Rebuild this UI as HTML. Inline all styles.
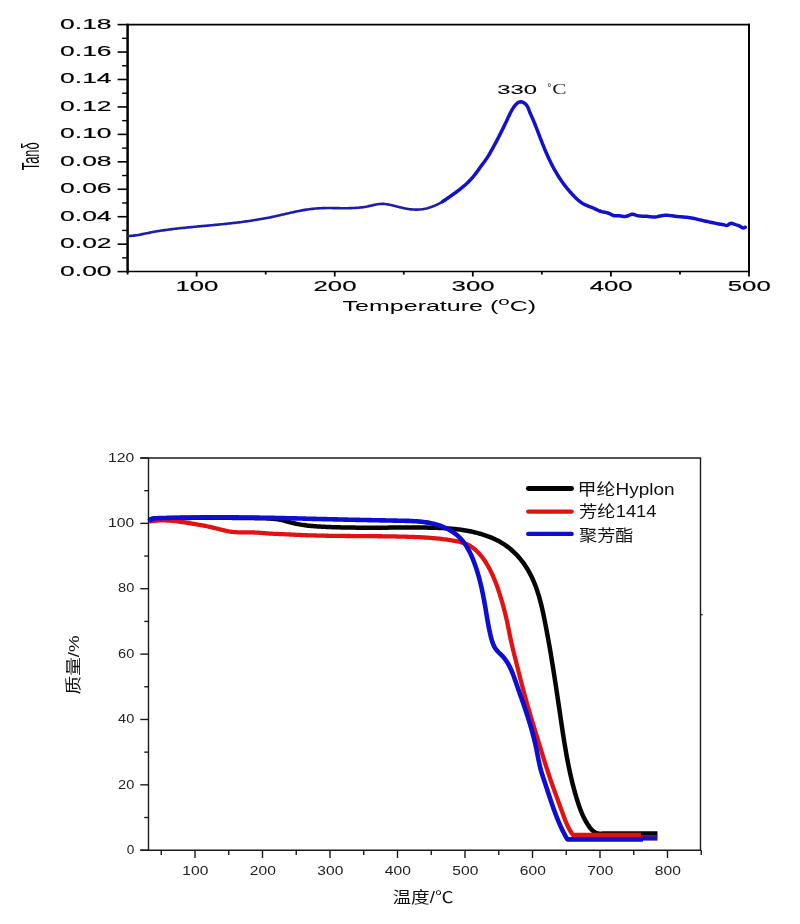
<!DOCTYPE html>
<html lang="zh-CN"><head><meta charset="utf-8"><title>Tan&#948; and TGA curves</title>
<style>
html,body{margin:0;padding:0;background:#fff;width:800px;height:924px;overflow:hidden;}
svg{display:block;}
</style></head><body>
<svg width="800" height="924" viewBox="0 0 800 924"><rect width="800" height="924" fill="#fff"/><line x1="126.60" y1="24.60" x2="750.00" y2="24.60" stroke="#000" stroke-width="1.6"/>
<line x1="749.00" y1="23.80" x2="749.00" y2="272.60" stroke="#000" stroke-width="2"/>
<line x1="127.60" y1="23.80" x2="127.60" y2="272.60" stroke="#000" stroke-width="2.5"/>
<line x1="126.60" y1="271.45" x2="750.00" y2="271.45" stroke="#000" stroke-width="1.5"/>
<line x1="117.6" y1="271.60" x2="127.60" y2="271.60" stroke="#000" stroke-width="1.6"/>
<text x="111.60" y="275.50" font-size="14.50" text-anchor="end" fill="#000" font-family='"Liberation Sans", Arial, sans-serif' textLength="51.50" lengthAdjust="spacingAndGlyphs" stroke="#000" stroke-width="0.15">0.00</text>
<line x1="122.1" y1="257.88" x2="127.60" y2="257.88" stroke="#000" stroke-width="1.4"/>
<line x1="117.6" y1="244.16" x2="127.60" y2="244.16" stroke="#000" stroke-width="1.6"/>
<text x="111.60" y="248.06" font-size="14.50" text-anchor="end" fill="#000" font-family='"Liberation Sans", Arial, sans-serif' textLength="51.50" lengthAdjust="spacingAndGlyphs" stroke="#000" stroke-width="0.15">0.02</text>
<line x1="122.1" y1="230.43" x2="127.60" y2="230.43" stroke="#000" stroke-width="1.4"/>
<line x1="117.6" y1="216.71" x2="127.60" y2="216.71" stroke="#000" stroke-width="1.6"/>
<text x="111.60" y="220.61" font-size="14.50" text-anchor="end" fill="#000" font-family='"Liberation Sans", Arial, sans-serif' textLength="51.50" lengthAdjust="spacingAndGlyphs" stroke="#000" stroke-width="0.15">0.04</text>
<line x1="122.1" y1="202.99" x2="127.60" y2="202.99" stroke="#000" stroke-width="1.4"/>
<line x1="117.6" y1="189.27" x2="127.60" y2="189.27" stroke="#000" stroke-width="1.6"/>
<text x="111.60" y="193.17" font-size="14.50" text-anchor="end" fill="#000" font-family='"Liberation Sans", Arial, sans-serif' textLength="51.50" lengthAdjust="spacingAndGlyphs" stroke="#000" stroke-width="0.15">0.06</text>
<line x1="122.1" y1="175.54" x2="127.60" y2="175.54" stroke="#000" stroke-width="1.4"/>
<line x1="117.6" y1="161.82" x2="127.60" y2="161.82" stroke="#000" stroke-width="1.6"/>
<text x="111.60" y="165.72" font-size="14.50" text-anchor="end" fill="#000" font-family='"Liberation Sans", Arial, sans-serif' textLength="51.50" lengthAdjust="spacingAndGlyphs" stroke="#000" stroke-width="0.15">0.08</text>
<line x1="122.1" y1="148.10" x2="127.60" y2="148.10" stroke="#000" stroke-width="1.4"/>
<line x1="117.6" y1="134.38" x2="127.60" y2="134.38" stroke="#000" stroke-width="1.6"/>
<text x="111.60" y="138.28" font-size="14.50" text-anchor="end" fill="#000" font-family='"Liberation Sans", Arial, sans-serif' textLength="51.50" lengthAdjust="spacingAndGlyphs" stroke="#000" stroke-width="0.15">0.10</text>
<line x1="122.1" y1="120.66" x2="127.60" y2="120.66" stroke="#000" stroke-width="1.4"/>
<line x1="117.6" y1="106.93" x2="127.60" y2="106.93" stroke="#000" stroke-width="1.6"/>
<text x="111.60" y="110.83" font-size="14.50" text-anchor="end" fill="#000" font-family='"Liberation Sans", Arial, sans-serif' textLength="51.50" lengthAdjust="spacingAndGlyphs" stroke="#000" stroke-width="0.15">0.12</text>
<line x1="122.1" y1="93.21" x2="127.60" y2="93.21" stroke="#000" stroke-width="1.4"/>
<line x1="117.6" y1="79.49" x2="127.60" y2="79.49" stroke="#000" stroke-width="1.6"/>
<text x="111.60" y="83.39" font-size="14.50" text-anchor="end" fill="#000" font-family='"Liberation Sans", Arial, sans-serif' textLength="51.50" lengthAdjust="spacingAndGlyphs" stroke="#000" stroke-width="0.15">0.14</text>
<line x1="122.1" y1="65.77" x2="127.60" y2="65.77" stroke="#000" stroke-width="1.4"/>
<line x1="117.6" y1="52.04" x2="127.60" y2="52.04" stroke="#000" stroke-width="1.6"/>
<text x="111.60" y="55.94" font-size="14.50" text-anchor="end" fill="#000" font-family='"Liberation Sans", Arial, sans-serif' textLength="51.50" lengthAdjust="spacingAndGlyphs" stroke="#000" stroke-width="0.15">0.16</text>
<line x1="122.1" y1="38.32" x2="127.60" y2="38.32" stroke="#000" stroke-width="1.4"/>
<line x1="117.6" y1="24.60" x2="127.60" y2="24.60" stroke="#000" stroke-width="1.6"/>
<text x="111.60" y="28.50" font-size="14.50" text-anchor="end" fill="#000" font-family='"Liberation Sans", Arial, sans-serif' textLength="51.50" lengthAdjust="spacingAndGlyphs" stroke="#000" stroke-width="0.15">0.18</text>
<line x1="127.60" y1="271.60" x2="127.60" y2="274.5" stroke="#000" stroke-width="1.8"/>
<line x1="196.64" y1="271.60" x2="196.64" y2="276.5" stroke="#000" stroke-width="1.8"/>
<text x="196.94" y="290.60" font-size="14.30" text-anchor="middle" fill="#000" font-family='"Liberation Sans", Arial, sans-serif' textLength="43.00" lengthAdjust="spacingAndGlyphs" stroke="#000" stroke-width="0.15">100</text>
<line x1="265.69" y1="271.60" x2="265.69" y2="274.5" stroke="#000" stroke-width="1.8"/>
<line x1="334.73" y1="271.60" x2="334.73" y2="276.5" stroke="#000" stroke-width="1.8"/>
<text x="335.03" y="290.60" font-size="14.30" text-anchor="middle" fill="#000" font-family='"Liberation Sans", Arial, sans-serif' textLength="43.00" lengthAdjust="spacingAndGlyphs" stroke="#000" stroke-width="0.15">200</text>
<line x1="403.78" y1="271.60" x2="403.78" y2="274.5" stroke="#000" stroke-width="1.8"/>
<line x1="472.82" y1="271.60" x2="472.82" y2="276.5" stroke="#000" stroke-width="1.8"/>
<text x="473.12" y="290.60" font-size="14.30" text-anchor="middle" fill="#000" font-family='"Liberation Sans", Arial, sans-serif' textLength="43.00" lengthAdjust="spacingAndGlyphs" stroke="#000" stroke-width="0.15">300</text>
<line x1="541.87" y1="271.60" x2="541.87" y2="274.5" stroke="#000" stroke-width="1.8"/>
<line x1="610.91" y1="271.60" x2="610.91" y2="276.5" stroke="#000" stroke-width="1.8"/>
<text x="611.21" y="290.60" font-size="14.30" text-anchor="middle" fill="#000" font-family='"Liberation Sans", Arial, sans-serif' textLength="43.00" lengthAdjust="spacingAndGlyphs" stroke="#000" stroke-width="0.15">400</text>
<line x1="679.96" y1="271.60" x2="679.96" y2="274.5" stroke="#000" stroke-width="1.8"/>
<line x1="749.00" y1="271.60" x2="749.00" y2="276.5" stroke="#000" stroke-width="1.8"/>
<text x="749.30" y="290.60" font-size="14.30" text-anchor="middle" fill="#000" font-family='"Liberation Sans", Arial, sans-serif' textLength="43.00" lengthAdjust="spacingAndGlyphs" stroke="#000" stroke-width="0.15">500</text>
<text x="342.6" y="310.6" font-size="14" fill="#000" font-family='"Liberation Sans", Arial, sans-serif' textLength="193.5" lengthAdjust="spacingAndGlyphs">Temperature (<tspan font-size="11.5" dy="-5.8">o</tspan><tspan dy="5.8">C)</tspan></text>
<text transform="translate(38.6,170.3) rotate(-90)" font-size="24.5" fill="#000" font-family='"Liberation Sans", Arial, sans-serif' textLength="28" lengthAdjust="spacingAndGlyphs">Tan&#948;</text>
<text x="497.30" y="93.95" font-size="12.60" text-anchor="start" fill="#000" font-family='"Liberation Sans", Arial, sans-serif' textLength="39.80" lengthAdjust="spacingAndGlyphs" stroke="#000" stroke-width="0.08">330</text>
<text y="94.3" fill="#1a1a1a" font-family='"Liberation Serif", "Noto Serif CJK SC", serif'><tspan x="547.2" font-size="10.5" font-family='"Liberation Sans", sans-serif' dy="-3.4">&#176;</tspan><tspan x="552.2" dy="3.4" font-size="14.6" textLength="14.2" lengthAdjust="spacingAndGlyphs">C</tspan></text>
<path d="M127.80,236.10 L129.30,236.03 L130.79,235.92 L132.27,235.78 L133.76,235.61 L135.23,235.41 L136.71,235.19 L138.18,234.94 L139.65,234.68 L141.12,234.40 L142.59,234.11 L144.05,233.82 L145.52,233.52 L146.98,233.21 L148.44,232.91 L149.91,232.61 L151.37,232.32 L152.84,232.04 L154.31,231.77 L155.78,231.51 L157.25,231.26 L158.72,231.02 L160.20,230.78 L161.67,230.56 L163.15,230.34 L164.63,230.13 L166.10,229.92 L167.58,229.73 L169.06,229.53 L170.54,229.35 L172.02,229.16 L173.50,228.99 L174.99,228.81 L176.47,228.65 L177.95,228.48 L179.44,228.32 L180.92,228.16 L182.41,228.00 L183.89,227.85 L185.38,227.70 L186.86,227.55 L188.35,227.40 L189.84,227.26 L191.32,227.11 L192.81,226.97 L194.30,226.83 L195.78,226.69 L197.27,226.55 L198.76,226.41 L200.25,226.27 L201.74,226.14 L203.22,226.00 L204.71,225.86 L206.20,225.73 L207.69,225.59 L209.17,225.45 L210.66,225.32 L212.15,225.18 L213.64,225.04 L215.12,224.90 L216.61,224.75 L218.10,224.61 L219.58,224.47 L221.07,224.32 L222.56,224.17 L224.04,224.02 L225.53,223.87 L227.01,223.71 L228.50,223.55 L229.98,223.39 L231.46,223.22 L232.95,223.06 L234.43,222.88 L235.91,222.71 L237.39,222.53 L238.87,222.35 L240.35,222.17 L241.83,221.98 L243.31,221.78 L244.79,221.58 L246.27,221.38 L247.75,221.17 L249.22,220.96 L250.70,220.75 L252.17,220.52 L253.65,220.30 L255.12,220.06 L256.59,219.83 L258.07,219.58 L259.54,219.33 L261.01,219.08 L262.48,218.82 L263.95,218.55 L265.41,218.28 L266.88,218.00 L268.35,217.71 L269.81,217.42 L271.27,217.12 L272.74,216.81 L274.20,216.50 L275.66,216.18 L277.12,215.85 L278.58,215.52 L280.04,215.19 L281.50,214.85 L282.95,214.51 L284.41,214.17 L285.87,213.84 L287.33,213.50 L288.79,213.17 L290.24,212.83 L291.70,212.51 L293.16,212.18 L294.62,211.87 L296.08,211.56 L297.54,211.26 L299.00,210.96 L300.47,210.68 L301.93,210.40 L303.40,210.14 L304.86,209.89 L306.33,209.65 L307.80,209.43 L309.27,209.22 L310.74,209.02 L312.22,208.85 L313.70,208.69 L315.17,208.55 L316.66,208.43 L318.14,208.33 L319.63,208.24 L321.11,208.18 L322.60,208.13 L324.09,208.09 L325.59,208.07 L327.08,208.05 L328.58,208.05 L330.07,208.05 L331.57,208.06 L333.07,208.08 L334.57,208.09 L336.06,208.12 L337.56,208.14 L339.06,208.16 L340.56,208.18 L342.06,208.19 L343.56,208.20 L345.06,208.20 L346.55,208.20 L348.05,208.18 L349.55,208.16 L351.04,208.12 L352.53,208.06 L354.03,208.00 L355.52,207.91 L357.00,207.81 L358.49,207.69 L359.97,207.54 L361.46,207.37 L362.94,207.18 L364.41,206.96 L365.89,206.72 L367.36,206.45 L368.83,206.14 L370.29,205.82 L371.76,205.48 L373.22,205.14 L374.68,204.82 L376.14,204.53 L377.60,204.27 L379.05,204.07 L380.51,203.94 L381.97,203.88 L383.43,203.91 L384.89,204.01 L386.35,204.17 L387.81,204.39 L389.27,204.66 L390.73,204.97 L392.19,205.30 L393.65,205.66 L395.11,206.04 L396.57,206.41 L398.03,206.79 L399.49,207.16 L400.95,207.51 L402.41,207.85 L403.87,208.18 L405.34,208.48 L406.81,208.75 L408.28,208.99 L409.76,209.20 L411.25,209.36 L412.74,209.49 L414.23,209.57 L415.72,209.61 L417.21,209.61 L418.70,209.56 L420.19,209.46 L421.67,209.30 L423.14,209.10 L424.60,208.84 L426.06,208.54 L427.50,208.19 L428.94,207.79 L430.36,207.34 L431.77,206.85 L433.17,206.32 L434.56,205.76 L435.93,205.15 L437.29,204.51 L438.63,203.84 L439.96,203.13 L441.27,202.40 L442.56,201.64 L443.83,200.85 L445.09,200.04 L446.32,199.21 L447.54,198.35 L448.73,197.48" fill="none" stroke="#1c1cae" stroke-width="2.6" stroke-linejoin="round" stroke-linecap="round"/>
<path d="M442.55,201.63 L443.77,200.80 L444.99,199.97 L446.21,199.14 L447.44,198.30 L448.67,197.46 L449.90,196.61 L451.13,195.76 L452.36,194.89 L453.58,194.02 L454.80,193.14 L456.02,192.26 L457.22,191.36 L458.42,190.45 L459.61,189.53 L460.79,188.59 L461.95,187.65 L463.11,186.69 L464.24,185.71 L465.37,184.72 L466.47,183.71 L467.56,182.69 L468.63,181.65 L469.68,180.59 L470.71,179.51 L471.71,178.41 L472.69,177.29 L473.65,176.15 L474.58,174.99 L475.49,173.81 L476.38,172.62 L477.26,171.41 L478.13,170.20 L479.00,168.98 L479.87,167.77 L480.75,166.56 L481.64,165.36 L482.54,164.16 L483.45,162.97 L484.34,161.77 L485.23,160.57 L486.09,159.35 L486.92,158.12 L487.73,156.86 L488.51,155.59 L489.27,154.31 L490.02,153.02 L490.76,151.72 L491.49,150.42 L492.22,149.11 L492.95,147.80 L493.67,146.49 L494.38,145.18 L495.09,143.86 L495.80,142.55 L496.50,141.22 L497.19,139.90 L497.88,138.57 L498.57,137.24 L499.25,135.91 L499.93,134.58 L500.60,133.24 L501.27,131.90 L501.94,130.56 L502.60,129.22 L503.25,127.88 L503.91,126.53 L504.55,125.19 L505.20,123.84 L505.84,122.49 L506.48,121.13 L507.11,119.78 L507.74,118.43 L508.37,117.07 L509.00,115.72 L509.65,114.37 L510.31,113.03 L511.00,111.71 L511.72,110.40 L512.49,109.11 L513.31,107.85 L514.18,106.61 L515.12,105.41 L516.14,104.25 L517.23,103.23 L518.41,102.41 L519.68,101.90 L521.05,101.77 L522.52,102.09 L523.99,102.82 L525.33,103.82 L526.42,104.96 L527.28,106.20 L527.96,107.51 L528.53,108.87 L529.05,110.25 L529.58,111.64 L530.15,113.02 L530.73,114.39 L531.33,115.77 L531.94,117.14 L532.54,118.51 L533.14,119.89 L533.72,121.27 L534.29,122.65 L534.86,124.03 L535.41,125.42 L535.96,126.81 L536.51,128.20 L537.05,129.59 L537.59,130.98 L538.12,132.37 L538.65,133.77 L539.19,135.16 L539.72,136.56 L540.26,137.95 L540.80,139.35 L541.34,140.74 L541.89,142.13 L542.44,143.52 L542.99,144.91 L543.55,146.30 L544.12,147.69 L544.69,149.07 L545.27,150.45 L545.86,151.83 L546.45,153.20 L547.05,154.57 L547.66,155.94 L548.27,157.30 L548.90,158.66 L549.54,160.01 L550.18,161.36 L550.84,162.70 L551.51,164.03 L552.19,165.36 L552.88,166.69 L553.59,168.00 L554.30,169.31 L555.04,170.62 L555.78,171.91 L556.54,173.20 L557.31,174.48 L558.09,175.75 L558.89,177.01 L559.71,178.26 L560.54,179.50 L561.38,180.74 L562.23,181.96 L563.10,183.18 L563.99,184.38 L564.89,185.57 L565.81,186.75 L566.74,187.93 L567.68,189.08 L568.64,190.23 L569.62,191.37 L570.61,192.49 L571.61,193.60 L572.63,194.70 L573.67,195.79 L574.72,196.86 L575.79,197.91 L576.88,198.95 L577.99,199.96 L579.13,200.93 L580.30,201.85 L581.51,202.71 L582.76,203.50 L584.05,204.23 L585.39,204.87 L586.76,205.46 L588.16,206.01 L589.56,206.54 L590.96,207.09 L592.35,207.66 L593.72,208.27 L595.07,208.92 L596.41,209.56 L597.76,210.19 L599.13,210.77 L600.53,211.27 L601.97,211.68 L603.44,212.01 L604.92,212.31 L606.39,212.63 L607.83,213.02 L609.24,213.51 L610.61,214.15 L611.96,214.85 L613.32,215.46 L614.73,215.79 L616.20,215.79 L617.70,215.67 L619.20,215.68 L620.68,215.91 L622.15,216.22 L623.63,216.44 L625.13,216.46 L626.61,216.24 L628.07,215.76 L629.49,215.11 L630.89,214.50 L632.28,214.17 L633.68,214.30 L635.09,214.79 L636.52,215.33 L637.99,215.71 L639.47,215.93 L640.96,216.06 L642.45,216.13 L643.94,216.18 L645.44,216.23 L646.93,216.31 L648.42,216.46 L649.92,216.65 L651.41,216.83 L652.91,216.96 L654.40,217.00 L655.88,216.89 L657.37,216.65 L658.85,216.33 L660.33,215.99 L661.80,215.68 L663.28,215.45 L664.76,215.34 L666.23,215.31 L667.71,215.36 L669.18,215.47 L670.66,215.63 L672.14,215.82 L673.62,216.03 L675.10,216.24 L676.58,216.43 L678.06,216.60 L679.55,216.73 L681.03,216.85 L682.52,216.95 L684.01,217.05 L685.49,217.17 L686.97,217.31 L688.45,217.49 L689.92,217.71 L691.39,217.97 L692.85,218.26 L694.31,218.58 L695.77,218.91 L697.23,219.24 L698.68,219.58 L700.14,219.92 L701.59,220.25 L703.05,220.59 L704.50,220.92 L705.96,221.25 L707.41,221.58 L708.87,221.90 L710.33,222.21 L711.79,222.52 L713.25,222.82 L714.72,223.12 L716.19,223.40 L717.66,223.68 L719.14,223.96 L720.62,224.24 L722.10,224.53 L723.58,224.83 L725.07,225.15 L726.53,225.42 L727.81,225.25 L728.81,224.42 L729.82,223.58 L731.07,223.35 L732.53,223.59 L734.08,224.09 L735.63,224.61 L737.13,225.07 L738.54,225.57 L739.88,226.20 L741.14,227.01 L742.39,227.71 L743.74,227.91 L745.30,227.21" fill="none" stroke="#1212cc" stroke-width="3.5" stroke-linejoin="round" stroke-linecap="round"/>
<line x1="140.3" y1="458.00" x2="701.10" y2="458.00" stroke="#1a1a1a" stroke-width="1.6"/>
<line x1="148.50" y1="458.00" x2="148.50" y2="850.90" stroke="#1a1a1a" stroke-width="1.4"/>
<line x1="700.50" y1="458.00" x2="700.50" y2="850.90" stroke="#1a1a1a" stroke-width="1.4"/>
<line x1="140.3" y1="850.20" x2="701.10" y2="850.20" stroke="#1a1a1a" stroke-width="1.6"/>
<line x1="700.50" y1="614.7" x2="702.70" y2="614.7" stroke="#1a1a1a" stroke-width="1.2"/>
<line x1="140.3" y1="850.20" x2="148.50" y2="850.20" stroke="#1a1a1a" stroke-width="1.4"/>
<text x="134.30" y="853.90" font-size="13.20" text-anchor="end" fill="#222" font-family='"Liberation Sans", Arial, sans-serif' textLength="7.60" lengthAdjust="spacingAndGlyphs" >0</text>
<line x1="144.3" y1="817.52" x2="148.50" y2="817.52" stroke="#1a1a1a" stroke-width="1.4"/>
<line x1="140.3" y1="784.83" x2="148.50" y2="784.83" stroke="#1a1a1a" stroke-width="1.4"/>
<text x="134.30" y="788.53" font-size="13.20" text-anchor="end" fill="#222" font-family='"Liberation Sans", Arial, sans-serif' textLength="16.20" lengthAdjust="spacingAndGlyphs" >20</text>
<line x1="144.3" y1="752.15" x2="148.50" y2="752.15" stroke="#1a1a1a" stroke-width="1.4"/>
<line x1="140.3" y1="719.47" x2="148.50" y2="719.47" stroke="#1a1a1a" stroke-width="1.4"/>
<text x="134.30" y="723.17" font-size="13.20" text-anchor="end" fill="#222" font-family='"Liberation Sans", Arial, sans-serif' textLength="16.20" lengthAdjust="spacingAndGlyphs" >40</text>
<line x1="144.3" y1="686.78" x2="148.50" y2="686.78" stroke="#1a1a1a" stroke-width="1.4"/>
<line x1="140.3" y1="654.10" x2="148.50" y2="654.10" stroke="#1a1a1a" stroke-width="1.4"/>
<text x="134.30" y="657.80" font-size="13.20" text-anchor="end" fill="#222" font-family='"Liberation Sans", Arial, sans-serif' textLength="16.20" lengthAdjust="spacingAndGlyphs" >60</text>
<line x1="144.3" y1="621.42" x2="148.50" y2="621.42" stroke="#1a1a1a" stroke-width="1.4"/>
<line x1="140.3" y1="588.73" x2="148.50" y2="588.73" stroke="#1a1a1a" stroke-width="1.4"/>
<text x="134.30" y="592.43" font-size="13.20" text-anchor="end" fill="#222" font-family='"Liberation Sans", Arial, sans-serif' textLength="16.20" lengthAdjust="spacingAndGlyphs" >80</text>
<line x1="144.3" y1="556.05" x2="148.50" y2="556.05" stroke="#1a1a1a" stroke-width="1.4"/>
<line x1="140.3" y1="523.37" x2="148.50" y2="523.37" stroke="#1a1a1a" stroke-width="1.4"/>
<text x="134.30" y="527.07" font-size="13.20" text-anchor="end" fill="#222" font-family='"Liberation Sans", Arial, sans-serif' textLength="26.20" lengthAdjust="spacingAndGlyphs" >100</text>
<line x1="144.3" y1="490.68" x2="148.50" y2="490.68" stroke="#1a1a1a" stroke-width="1.4"/>
<line x1="140.3" y1="458.00" x2="148.50" y2="458.00" stroke="#1a1a1a" stroke-width="1.4"/>
<text x="134.30" y="461.70" font-size="13.20" text-anchor="end" fill="#222" font-family='"Liberation Sans", Arial, sans-serif' textLength="26.20" lengthAdjust="spacingAndGlyphs" >120</text>
<line x1="161.25" y1="850.20" x2="161.25" y2="855" stroke="#1a1a1a" stroke-width="1.4"/>
<line x1="195.00" y1="850.20" x2="195.00" y2="858" stroke="#1a1a1a" stroke-width="1.4"/>
<text x="195.30" y="874.60" font-size="12.60" text-anchor="middle" fill="#222" font-family='"Liberation Sans", Arial, sans-serif' textLength="26.00" lengthAdjust="spacingAndGlyphs" >100</text>
<line x1="228.75" y1="850.20" x2="228.75" y2="855" stroke="#1a1a1a" stroke-width="1.4"/>
<line x1="262.50" y1="850.20" x2="262.50" y2="858" stroke="#1a1a1a" stroke-width="1.4"/>
<text x="262.80" y="874.60" font-size="12.60" text-anchor="middle" fill="#222" font-family='"Liberation Sans", Arial, sans-serif' textLength="26.00" lengthAdjust="spacingAndGlyphs" >200</text>
<line x1="296.25" y1="850.20" x2="296.25" y2="855" stroke="#1a1a1a" stroke-width="1.4"/>
<line x1="330.00" y1="850.20" x2="330.00" y2="858" stroke="#1a1a1a" stroke-width="1.4"/>
<text x="330.30" y="874.60" font-size="12.60" text-anchor="middle" fill="#222" font-family='"Liberation Sans", Arial, sans-serif' textLength="26.00" lengthAdjust="spacingAndGlyphs" >300</text>
<line x1="363.75" y1="850.20" x2="363.75" y2="855" stroke="#1a1a1a" stroke-width="1.4"/>
<line x1="397.50" y1="850.20" x2="397.50" y2="858" stroke="#1a1a1a" stroke-width="1.4"/>
<text x="397.80" y="874.60" font-size="12.60" text-anchor="middle" fill="#222" font-family='"Liberation Sans", Arial, sans-serif' textLength="26.00" lengthAdjust="spacingAndGlyphs" >400</text>
<line x1="431.25" y1="850.20" x2="431.25" y2="855" stroke="#1a1a1a" stroke-width="1.4"/>
<line x1="465.00" y1="850.20" x2="465.00" y2="858" stroke="#1a1a1a" stroke-width="1.4"/>
<text x="465.30" y="874.60" font-size="12.60" text-anchor="middle" fill="#222" font-family='"Liberation Sans", Arial, sans-serif' textLength="26.00" lengthAdjust="spacingAndGlyphs" >500</text>
<line x1="498.75" y1="850.20" x2="498.75" y2="855" stroke="#1a1a1a" stroke-width="1.4"/>
<line x1="532.50" y1="850.20" x2="532.50" y2="858" stroke="#1a1a1a" stroke-width="1.4"/>
<text x="532.80" y="874.60" font-size="12.60" text-anchor="middle" fill="#222" font-family='"Liberation Sans", Arial, sans-serif' textLength="26.00" lengthAdjust="spacingAndGlyphs" >600</text>
<line x1="566.25" y1="850.20" x2="566.25" y2="855" stroke="#1a1a1a" stroke-width="1.4"/>
<line x1="600.00" y1="850.20" x2="600.00" y2="858" stroke="#1a1a1a" stroke-width="1.4"/>
<text x="600.30" y="874.60" font-size="12.60" text-anchor="middle" fill="#222" font-family='"Liberation Sans", Arial, sans-serif' textLength="26.00" lengthAdjust="spacingAndGlyphs" >700</text>
<line x1="633.75" y1="850.20" x2="633.75" y2="855" stroke="#1a1a1a" stroke-width="1.4"/>
<line x1="667.50" y1="850.20" x2="667.50" y2="858" stroke="#1a1a1a" stroke-width="1.4"/>
<text x="667.80" y="874.60" font-size="12.60" text-anchor="middle" fill="#222" font-family='"Liberation Sans", Arial, sans-serif' textLength="26.00" lengthAdjust="spacingAndGlyphs" >800</text>
<line x1="701.25" y1="850.20" x2="701.25" y2="855" stroke="#1a1a1a" stroke-width="1.4"/>
<text x="392.50" y="903.20" font-size="16.00" text-anchor="start" fill="#111" font-family='"Liberation Sans", "Noto Sans CJK SC", "WenQuanYi Zen Hei", sans-serif' textLength="61.00" lengthAdjust="spacingAndGlyphs" >温度/&#8451;</text>
<text transform="translate(78.6,694.5) rotate(-90)" font-size="15.5" fill="#111" font-family='"Liberation Sans", "Noto Sans CJK SC", "WenQuanYi Zen Hei", sans-serif' textLength="59" lengthAdjust="spacingAndGlyphs">质量/%</text>
<line x1="528.3" y1="488.5" x2="571.6" y2="488.5" stroke="#000" stroke-width="4.8" stroke-linecap="round"/>
<line x1="528.3" y1="511.6" x2="571.6" y2="511.6" stroke="#e01212" stroke-width="4.4" stroke-linecap="round"/>
<line x1="528.3" y1="533.9" x2="571.6" y2="533.9" stroke="#0e0ed2" stroke-width="4.4" stroke-linecap="round"/>
<text x="577.60" y="494.60" font-size="16.00" text-anchor="start" fill="#111" font-family='"Liberation Sans", "Noto Sans CJK SC", "WenQuanYi Zen Hei", sans-serif' textLength="97.00" lengthAdjust="spacingAndGlyphs" >甲纶Hyplon</text>
<text x="579.00" y="517.40" font-size="16.00" text-anchor="start" fill="#111" font-family='"Liberation Sans", "Noto Sans CJK SC", "WenQuanYi Zen Hei", sans-serif' textLength="77.50" lengthAdjust="spacingAndGlyphs" >芳纶1414</text>
<text x="579.00" y="540.60" font-size="16.30" text-anchor="start" fill="#111" font-family='"Liberation Sans", "Noto Sans CJK SC", "WenQuanYi Zen Hei", sans-serif' textLength="54.50" lengthAdjust="spacingAndGlyphs" >聚芳酯</text>
<path d="M148.95,520.22 L150.32,519.50 L151.73,519.01 L153.17,518.72 L154.64,518.56 L156.13,518.48 L157.62,518.44 L159.11,518.40 L160.60,518.37 L162.09,518.33 L163.59,518.30 L165.08,518.26 L166.57,518.23 L168.07,518.20 L169.56,518.17 L171.06,518.14 L172.56,518.12 L174.05,518.09 L175.55,518.06 L177.05,518.04 L178.54,518.02 L180.04,518.00 L181.54,517.98 L183.04,517.96 L184.54,517.94 L186.03,517.92 L187.53,517.91 L189.03,517.89 L190.53,517.88 L192.03,517.86 L193.53,517.85 L195.03,517.84 L196.53,517.83 L198.03,517.82 L199.53,517.82 L201.04,517.81 L202.54,517.80 L204.04,517.80 L205.54,517.79 L207.04,517.79 L208.54,517.79 L210.04,517.79 L211.55,517.79 L213.05,517.79 L214.55,517.79 L216.05,517.79 L217.56,517.80 L219.06,517.80 L220.56,517.81 L222.06,517.81 L223.56,517.82 L225.07,517.83 L226.57,517.84 L228.07,517.84 L229.57,517.86 L231.07,517.87 L232.58,517.88 L234.08,517.89 L235.58,517.90 L237.08,517.92 L238.58,517.93 L240.08,517.95 L241.59,517.96 L243.09,517.98 L244.59,518.00 L246.09,518.02 L247.59,518.04 L249.09,518.06 L250.59,518.08 L252.09,518.10 L253.59,518.12 L255.09,518.14 L256.59,518.17 L258.09,518.19 L259.58,518.21 L261.08,518.24 L262.58,518.27 L264.08,518.30 L265.57,518.34 L267.07,518.39 L268.56,518.46 L270.05,518.54 L271.54,518.63 L273.02,518.76 L274.51,518.90 L275.99,519.07 L277.46,519.27 L278.93,519.50 L280.40,519.77 L281.86,520.08 L283.32,520.42 L284.78,520.81 L286.23,521.21 L287.68,521.63 L289.13,522.05 L290.58,522.45 L292.04,522.83 L293.50,523.19 L294.97,523.52 L296.44,523.83 L297.91,524.12 L299.39,524.39 L300.86,524.64 L302.35,524.88 L303.83,525.09 L305.31,525.29 L306.80,525.48 L308.29,525.65 L309.78,525.80 L311.28,525.95 L312.77,526.08 L314.27,526.20 L315.77,526.31 L317.26,526.42 L318.76,526.51 L320.26,526.60 L321.76,526.68 L323.26,526.76 L324.76,526.83 L326.26,526.89 L327.76,526.96 L329.26,527.02 L330.76,527.08 L332.26,527.13 L333.75,527.18 L335.25,527.23 L336.75,527.27 L338.25,527.32 L339.75,527.36 L341.24,527.39 L342.74,527.43 L344.24,527.46 L345.74,527.49 L347.23,527.52 L348.73,527.54 L350.23,527.56 L351.72,527.58 L353.22,527.60 L354.72,527.62 L356.21,527.63 L357.71,527.64 L359.21,527.65 L360.70,527.66 L362.20,527.67 L363.70,527.68 L365.19,527.68 L366.69,527.68 L368.19,527.69 L369.68,527.69 L371.18,527.69 L372.68,527.69 L374.17,527.68 L375.67,527.68 L377.17,527.68 L378.67,527.67 L380.16,527.66 L381.66,527.66 L383.16,527.65 L384.66,527.65 L386.15,527.64 L387.65,527.63 L389.15,527.62 L390.65,527.61 L392.15,527.61 L393.65,527.60 L395.15,527.59 L396.65,527.58 L398.15,527.58 L399.65,527.57 L401.15,527.56 L402.65,527.56 L404.15,527.55 L405.65,527.55 L407.15,527.54 L408.65,527.54 L410.16,527.54 L411.66,527.54 L413.16,527.54 L414.67,527.54 L416.17,527.54 L417.67,527.55 L419.18,527.55 L420.68,527.56 L422.19,527.57 L423.69,527.58 L425.20,527.59 L426.71,527.61 L428.21,527.63 L429.72,527.65 L431.22,527.68 L432.73,527.71 L434.23,527.75 L435.74,527.79 L437.24,527.84 L438.74,527.90 L440.25,527.96 L441.75,528.03 L443.25,528.10 L444.75,528.19 L446.24,528.28 L447.74,528.38 L449.23,528.50 L450.73,528.62 L452.22,528.75 L453.71,528.89 L455.19,529.04 L456.68,529.21 L458.16,529.38 L459.64,529.57 L461.12,529.77 L462.60,529.99 L464.07,530.22 L465.54,530.46 L467.01,530.71 L468.48,530.98 L469.94,531.27 L471.40,531.57 L472.86,531.89 L474.31,532.22 L475.76,532.57 L477.21,532.94 L478.65,533.33 L480.09,533.73 L481.52,534.15 L482.95,534.60 L484.38,535.06 L485.80,535.54 L487.22,536.04 L488.62,536.56 L490.02,537.11 L491.42,537.68 L492.80,538.27 L494.17,538.88 L495.53,539.52 L496.88,540.18 L498.21,540.87 L499.53,541.58 L500.84,542.32 L502.13,543.09 L503.41,543.89 L504.66,544.71 L505.90,545.56 L507.12,546.44 L508.33,547.35 L509.51,548.28 L510.67,549.24 L511.81,550.23 L512.94,551.24 L514.04,552.27 L515.12,553.33 L516.19,554.41 L517.23,555.50 L518.25,556.62 L519.24,557.76 L520.22,558.91 L521.17,560.08 L522.10,561.27 L523.01,562.47 L523.89,563.69 L524.76,564.92 L525.59,566.17 L526.41,567.42 L527.20,568.69 L527.96,569.97 L528.71,571.26 L529.43,572.56 L530.13,573.86 L530.81,575.18 L531.47,576.51 L532.11,577.85 L532.73,579.20 L533.33,580.56 L533.91,581.92 L534.48,583.30 L535.03,584.68 L535.56,586.06 L536.07,587.46 L536.57,588.86 L537.06,590.27 L537.53,591.69 L537.99,593.11 L538.43,594.54 L538.86,595.97 L539.28,597.41 L539.69,598.85 L540.08,600.30 L540.47,601.75 L540.84,603.21 L541.21,604.67 L541.56,606.13 L541.91,607.59 L542.25,609.06 L542.58,610.53 L542.91,612.01 L543.23,613.48 L543.54,614.96 L543.85,616.44 L544.15,617.92 L544.45,619.40 L544.75,620.88 L545.04,622.36 L545.33,623.84 L545.62,625.32 L545.91,626.80 L546.19,628.27 L546.47,629.75 L546.75,631.23 L547.03,632.71 L547.30,634.19 L547.58,635.67 L547.85,637.15 L548.11,638.63 L548.38,640.10 L548.65,641.58 L548.91,643.06 L549.17,644.54 L549.43,646.01 L549.68,647.49 L549.94,648.97 L550.19,650.45 L550.45,651.92 L550.70,653.40 L550.94,654.88 L551.19,656.35 L551.44,657.83 L551.68,659.31 L551.92,660.79 L552.17,662.26 L552.41,663.74 L552.64,665.22 L552.88,666.69 L553.12,668.17 L553.35,669.65 L553.59,671.13 L553.82,672.60 L554.05,674.08 L554.28,675.56 L554.51,677.04 L554.74,678.51 L554.97,679.99 L555.19,681.47 L555.42,682.95 L555.65,684.43 L555.87,685.90 L556.09,687.38 L556.32,688.86 L556.54,690.34 L556.76,691.82 L556.98,693.30 L557.21,694.78 L557.43,696.26 L557.65,697.74 L557.87,699.22 L558.09,700.70 L558.30,702.18 L558.52,703.66 L558.74,705.14 L558.96,706.62 L559.18,708.10 L559.40,709.58 L559.62,711.07 L559.83,712.55 L560.05,714.03 L560.27,715.52 L560.49,717.00 L560.71,718.48 L560.93,719.97 L561.15,721.45 L561.37,722.94 L561.59,724.42 L561.81,725.91 L562.03,727.39 L562.25,728.88 L562.48,730.36 L562.70,731.85 L562.93,733.33 L563.16,734.82 L563.39,736.30 L563.62,737.79 L563.86,739.27 L564.09,740.75 L564.33,742.24 L564.57,743.72 L564.82,745.20 L565.07,746.68 L565.32,748.16 L565.57,749.65 L565.82,751.13 L566.08,752.60 L566.35,754.08 L566.61,755.56 L566.88,757.04 L567.16,758.51 L567.43,759.99 L567.72,761.46 L568.00,762.93 L568.29,764.41 L568.59,765.88 L568.89,767.35 L569.19,768.81 L569.50,770.28 L569.82,771.75 L570.14,773.21 L570.46,774.67 L570.79,776.13 L571.13,777.59 L571.47,779.05 L571.82,780.51 L572.17,781.96 L572.53,783.42 L572.90,784.87 L573.27,786.32 L573.65,787.76 L574.03,789.21 L574.43,790.65 L574.83,792.09 L575.23,793.53 L575.65,794.97 L576.07,796.41 L576.50,797.84 L576.93,799.27 L577.38,800.70 L577.83,802.13 L578.29,803.55 L578.77,804.97 L579.25,806.38 L579.75,807.80 L580.27,809.20 L580.80,810.60 L581.36,811.99 L581.93,813.37 L582.53,814.75 L583.16,816.11 L583.81,817.47 L584.49,818.81 L585.20,820.15 L585.94,821.47 L586.70,822.78 L587.50,824.08 L588.33,825.37 L589.20,826.64 L590.11,827.86 L591.07,829.02 L592.08,830.09 L593.16,831.07 L594.31,831.93 L595.53,832.64 L596.84,833.21 L598.24,833.59 L599.73,833.79 L601.33,833.77 L603.04,833.51 L657.50,833.50" fill="none" stroke="#050505" stroke-width="4.5" stroke-linejoin="round"/>
<path d="M149.00,521.49 L150.47,521.27 L151.95,521.08 L153.44,520.91 L154.93,520.76 L156.43,520.64 L157.93,520.54 L159.43,520.47 L160.93,520.42 L162.43,520.40 L163.93,520.40 L165.43,520.43 L166.93,520.48 L168.43,520.56 L169.92,520.65 L171.41,520.77 L172.90,520.91 L174.38,521.06 L175.87,521.23 L177.35,521.41 L178.84,521.60 L180.32,521.80 L181.80,522.01 L183.28,522.23 L184.76,522.45 L186.24,522.67 L187.72,522.89 L189.20,523.12 L190.68,523.35 L192.16,523.59 L193.64,523.83 L195.11,524.07 L196.59,524.32 L198.06,524.58 L199.54,524.84 L201.01,525.11 L202.48,525.38 L203.95,525.66 L205.42,525.96 L206.89,526.25 L208.36,526.56 L209.82,526.88 L211.28,527.21 L212.75,527.54 L214.20,527.89 L215.66,528.25 L217.12,528.62 L218.57,528.99 L220.03,529.36 L221.48,529.73 L222.94,530.09 L224.39,530.43 L225.85,530.76 L227.31,531.06 L228.78,531.34 L230.25,531.58 L231.72,531.79 L233.20,531.96 L234.69,532.09 L236.18,532.20 L237.67,532.28 L239.16,532.34 L240.66,532.38 L242.16,532.40 L243.66,532.41 L245.17,532.42 L246.67,532.42 L248.17,532.42 L249.68,532.42 L251.18,532.43 L252.68,532.45 L254.18,532.49 L255.68,532.54 L257.17,532.62 L258.66,532.72 L260.15,532.84 L261.64,532.96 L263.13,533.09 L264.62,533.22 L266.10,533.34 L267.60,533.44 L269.09,533.54 L270.58,533.63 L272.08,533.70 L273.57,533.78 L275.07,533.84 L276.56,533.91 L278.06,533.97 L279.56,534.03 L281.06,534.09 L282.55,534.15 L284.05,534.21 L285.55,534.28 L287.05,534.35 L288.54,534.42 L290.04,534.50 L291.53,534.58 L293.03,534.65 L294.53,534.73 L296.02,534.80 L297.52,534.87 L299.01,534.94 L300.51,535.00 L302.01,535.06 L303.50,535.12 L305.00,535.18 L306.50,535.23 L307.99,535.29 L309.49,535.34 L310.99,535.38 L312.48,535.43 L313.98,535.47 L315.48,535.51 L316.97,535.55 L318.47,535.58 L319.97,535.62 L321.46,535.65 L322.96,535.68 L324.46,535.71 L325.96,535.74 L327.45,535.77 L328.95,535.79 L330.45,535.81 L331.95,535.84 L333.44,535.86 L334.94,535.88 L336.44,535.90 L337.94,535.91 L339.43,535.93 L340.93,535.95 L342.43,535.96 L343.93,535.97 L345.42,535.99 L346.92,536.00 L348.42,536.01 L349.92,536.02 L351.41,536.03 L352.91,536.04 L354.41,536.05 L355.91,536.07 L357.41,536.08 L358.90,536.08 L360.40,536.09 L361.90,536.10 L363.40,536.11 L364.90,536.12 L366.39,536.14 L367.89,536.15 L369.39,536.16 L370.89,536.17 L372.38,536.18 L373.88,536.19 L375.38,536.21 L376.88,536.22 L378.38,536.24 L379.87,536.25 L381.37,536.27 L382.87,536.29 L384.37,536.31 L385.86,536.33 L387.36,536.35 L388.86,536.37 L390.36,536.39 L391.85,536.42 L393.35,536.44 L394.85,536.47 L396.35,536.50 L397.84,536.53 L399.34,536.57 L400.84,536.60 L402.33,536.64 L403.83,536.68 L405.33,536.72 L406.83,536.76 L408.32,536.81 L409.82,536.86 L411.32,536.91 L412.81,536.96 L414.31,537.01 L415.81,537.07 L417.30,537.13 L418.80,537.20 L420.29,537.27 L421.79,537.35 L423.28,537.43 L424.78,537.51 L426.27,537.60 L427.77,537.70 L429.26,537.80 L430.75,537.91 L432.25,538.03 L433.74,538.16 L435.23,538.29 L436.72,538.43 L438.21,538.58 L439.70,538.73 L441.19,538.90 L442.68,539.08 L444.17,539.26 L445.65,539.46 L447.14,539.66 L448.62,539.88 L450.11,540.11 L451.59,540.34 L453.07,540.59 L454.55,540.86 L456.03,541.13 L457.51,541.42 L458.98,541.74 L460.44,542.09 L461.88,542.47 L463.31,542.90 L464.72,543.38 L466.11,543.92 L467.46,544.52 L468.79,545.19 L470.08,545.93 L471.34,546.74 L472.57,547.60 L473.76,548.51 L474.92,549.46 L476.04,550.46 L477.13,551.48 L478.19,552.54 L479.21,553.63 L480.21,554.76 L481.17,555.90 L482.10,557.08 L483.01,558.28 L483.89,559.50 L484.74,560.74 L485.57,562.00 L486.37,563.28 L487.15,564.57 L487.90,565.87 L488.64,567.19 L489.35,568.52 L490.05,569.85 L490.72,571.19 L491.38,572.53 L492.02,573.89 L492.64,575.25 L493.25,576.62 L493.84,577.99 L494.42,579.37 L494.98,580.75 L495.52,582.14 L496.06,583.53 L496.58,584.93 L497.09,586.33 L497.59,587.74 L498.08,589.15 L498.55,590.57 L499.02,591.99 L499.48,593.41 L499.93,594.84 L500.37,596.27 L500.81,597.70 L501.24,599.14 L501.67,600.57 L502.09,602.01 L502.50,603.45 L502.91,604.90 L503.31,606.34 L503.70,607.79 L504.09,609.24 L504.46,610.69 L504.84,612.14 L505.20,613.60 L505.56,615.06 L505.91,616.51 L506.25,617.97 L506.58,619.43 L506.91,620.90 L507.22,622.36 L507.53,623.83 L507.83,625.29 L508.13,626.76 L508.42,628.23 L508.71,629.69 L509.00,631.16 L509.29,632.63 L509.59,634.09 L509.88,635.56 L510.18,637.03 L510.49,638.49 L510.80,639.95 L511.12,641.41 L511.45,642.87 L511.79,644.33 L512.13,645.79 L512.48,647.25 L512.83,648.70 L513.19,650.16 L513.54,651.62 L513.91,653.07 L514.27,654.52 L514.63,655.98 L515.00,657.43 L515.36,658.88 L515.73,660.34 L516.09,661.79 L516.46,663.24 L516.82,664.70 L517.19,666.15 L517.55,667.60 L517.92,669.06 L518.28,670.51 L518.65,671.96 L519.02,673.41 L519.38,674.86 L519.75,676.31 L520.12,677.77 L520.49,679.22 L520.87,680.67 L521.24,682.11 L521.62,683.56 L521.99,685.01 L522.37,686.46 L522.76,687.91 L523.14,689.36 L523.52,690.80 L523.91,692.25 L524.30,693.69 L524.70,695.14 L525.09,696.58 L525.49,698.02 L525.89,699.47 L526.30,700.91 L526.70,702.35 L527.11,703.79 L527.52,705.23 L527.94,706.67 L528.35,708.11 L528.77,709.55 L529.19,710.98 L529.61,712.42 L530.04,713.86 L530.46,715.29 L530.89,716.73 L531.32,718.16 L531.75,719.60 L532.18,721.03 L532.61,722.47 L533.05,723.90 L533.48,725.34 L533.92,726.77 L534.35,728.20 L534.79,729.64 L535.23,731.07 L535.67,732.50 L536.11,733.93 L536.55,735.37 L536.99,736.80 L537.43,738.23 L537.87,739.66 L538.31,741.09 L538.75,742.53 L539.19,743.96 L539.63,745.39 L540.07,746.82 L540.51,748.25 L540.95,749.68 L541.39,751.12 L541.83,752.55 L542.27,753.98 L542.71,755.41 L543.15,756.84 L543.59,758.27 L544.04,759.70 L544.48,761.13 L544.93,762.56 L545.38,763.98 L545.83,765.41 L546.29,766.84 L546.74,768.26 L547.20,769.69 L547.66,771.11 L548.13,772.54 L548.60,773.96 L549.07,775.38 L549.54,776.80 L550.02,778.22 L550.50,779.63 L550.99,781.05 L551.48,782.46 L551.97,783.88 L552.47,785.29 L552.97,786.70 L553.47,788.11 L553.98,789.52 L554.48,790.93 L555.00,792.34 L555.51,793.75 L556.02,795.15 L556.54,796.56 L557.05,797.97 L557.57,799.37 L558.09,800.78 L558.60,802.19 L559.12,803.60 L559.63,805.00 L560.15,806.41 L560.66,807.82 L561.17,809.23 L561.68,810.64 L562.19,812.05 L562.70,813.46 L563.20,814.88 L563.72,816.29 L564.24,817.69 L564.76,819.09 L565.31,820.49 L565.87,821.87 L566.45,823.25 L567.05,824.62 L567.67,825.97 L568.33,827.31 L569.01,828.64 L569.73,829.95 L570.49,831.25 L571.28,832.52 L572.12,833.78 L573.01,835.01 L641.00,835.00" fill="none" stroke="#e01212" stroke-width="4.3" stroke-linejoin="round"/>
<path d="M148.89,521.22 L150.02,520.02 L151.27,519.19 L152.60,518.67 L154.02,518.37 L155.47,518.24 L156.96,518.18 L158.45,518.14 L159.94,518.10 L161.43,518.06 L162.92,518.02 L164.41,517.99 L165.90,517.95 L167.39,517.92 L168.89,517.88 L170.38,517.85 L171.87,517.82 L173.36,517.79 L174.86,517.76 L176.35,517.73 L177.84,517.71 L179.34,517.68 L180.83,517.66 L182.33,517.63 L183.82,517.61 L185.32,517.59 L186.82,517.57 L188.31,517.55 L189.81,517.53 L191.30,517.51 L192.80,517.49 L194.30,517.47 L195.80,517.46 L197.29,517.45 L198.79,517.43 L200.29,517.42 L201.79,517.41 L203.28,517.40 L204.78,517.39 L206.28,517.38 L207.78,517.37 L209.28,517.37 L210.78,517.36 L212.28,517.36 L213.78,517.35 L215.27,517.35 L216.77,517.35 L218.27,517.35 L219.77,517.35 L221.27,517.35 L222.77,517.35 L224.27,517.35 L225.77,517.35 L227.27,517.36 L228.77,517.36 L230.27,517.37 L231.77,517.38 L233.27,517.38 L234.77,517.39 L236.27,517.40 L237.77,517.41 L239.27,517.43 L240.77,517.44 L242.27,517.45 L243.77,517.47 L245.27,517.48 L246.77,517.50 L248.27,517.51 L249.77,517.53 L251.27,517.55 L252.76,517.57 L254.26,517.59 L255.76,517.61 L257.26,517.63 L258.76,517.65 L260.26,517.68 L261.76,517.70 L263.26,517.72 L264.75,517.75 L266.25,517.78 L267.75,517.80 L269.25,517.83 L270.75,517.86 L272.24,517.89 L273.74,517.92 L275.24,517.95 L276.74,517.98 L278.23,518.01 L279.73,518.04 L281.23,518.08 L282.72,518.11 L284.22,518.14 L285.72,518.18 L287.21,518.21 L288.71,518.24 L290.21,518.28 L291.70,518.31 L293.20,518.35 L294.70,518.39 L296.19,518.42 L297.69,518.46 L299.19,518.50 L300.68,518.53 L302.18,518.57 L303.67,518.61 L305.17,518.64 L306.67,518.68 L308.16,518.72 L309.66,518.76 L311.16,518.79 L312.65,518.83 L314.15,518.87 L315.64,518.91 L317.14,518.94 L318.64,518.98 L320.13,519.02 L321.63,519.06 L323.13,519.09 L324.62,519.13 L326.12,519.17 L327.62,519.20 L329.11,519.24 L330.61,519.27 L332.11,519.31 L333.60,519.35 L335.10,519.38 L336.60,519.41 L338.09,519.45 L339.59,519.48 L341.09,519.52 L342.59,519.55 L344.08,519.58 L345.58,519.62 L347.08,519.65 L348.57,519.68 L350.07,519.72 L351.57,519.75 L353.07,519.78 L354.57,519.81 L356.06,519.84 L357.56,519.87 L359.06,519.91 L360.56,519.94 L362.06,519.97 L363.55,520.00 L365.05,520.03 L366.55,520.06 L368.05,520.09 L369.55,520.12 L371.05,520.15 L372.54,520.18 L374.04,520.21 L375.54,520.24 L377.04,520.27 L378.54,520.30 L380.04,520.33 L381.54,520.36 L383.03,520.39 L384.53,520.42 L386.03,520.45 L387.53,520.47 L389.03,520.50 L390.53,520.53 L392.03,520.56 L393.53,520.59 L395.03,520.62 L396.53,520.65 L398.02,520.68 L399.52,520.71 L401.02,520.73 L402.52,520.76 L404.02,520.80 L405.52,520.83 L407.02,520.87 L408.52,520.92 L410.01,520.97 L411.51,521.03 L413.01,521.10 L414.50,521.18 L415.99,521.28 L417.48,521.39 L418.97,521.51 L420.46,521.65 L421.95,521.80 L423.43,521.97 L424.92,522.17 L426.39,522.38 L427.87,522.62 L429.34,522.88 L430.80,523.17 L432.26,523.49 L433.72,523.83 L435.17,524.20 L436.61,524.60 L438.04,525.04 L439.47,525.51 L440.89,526.01 L442.29,526.55 L443.69,527.13 L445.07,527.74 L446.44,528.38 L447.79,529.06 L449.12,529.78 L450.43,530.53 L451.71,531.32 L452.97,532.14 L454.20,533.00 L455.40,533.89 L456.57,534.82 L457.71,535.79 L458.81,536.79 L459.87,537.82 L460.90,538.89 L461.89,540.00 L462.83,541.13 L463.75,542.30 L464.63,543.49 L465.47,544.72 L466.29,545.96 L467.07,547.23 L467.83,548.52 L468.55,549.83 L469.25,551.16 L469.93,552.51 L470.58,553.87 L471.21,555.24 L471.82,556.62 L472.41,558.01 L472.99,559.40 L473.54,560.81 L474.08,562.21 L474.61,563.62 L475.11,565.04 L475.61,566.45 L476.09,567.87 L476.56,569.29 L477.02,570.72 L477.46,572.15 L477.89,573.58 L478.31,575.02 L478.71,576.46 L479.11,577.90 L479.49,579.34 L479.87,580.79 L480.23,582.24 L480.59,583.69 L480.93,585.14 L481.27,586.60 L481.60,588.05 L481.92,589.51 L482.23,590.98 L482.54,592.44 L482.83,593.91 L483.13,595.37 L483.41,596.84 L483.69,598.31 L483.97,599.79 L484.24,601.26 L484.51,602.74 L484.77,604.21 L485.03,605.69 L485.29,607.17 L485.54,608.65 L485.79,610.13 L486.04,611.61 L486.29,613.09 L486.54,614.57 L486.79,616.06 L487.04,617.54 L487.30,619.02 L487.55,620.50 L487.82,621.98 L488.08,623.45 L488.36,624.93 L488.63,626.40 L488.92,627.87 L489.22,629.34 L489.52,630.80 L489.83,632.27 L490.16,633.72 L490.49,635.18 L490.84,636.63 L491.20,638.08 L491.59,639.52 L492.00,640.94 L492.46,642.35 L492.96,643.73 L493.53,645.08 L494.16,646.40 L494.87,647.68 L495.67,648.91 L496.57,650.09 L497.57,651.23 L498.64,652.32 L499.76,653.40 L500.88,654.48 L501.97,655.57 L503.01,656.69 L504.00,657.84 L504.93,659.02 L505.82,660.22 L506.66,661.45 L507.46,662.70 L508.22,663.98 L508.94,665.28 L509.63,666.59 L510.29,667.92 L510.91,669.27 L511.51,670.63 L512.09,672.01 L512.65,673.39 L513.19,674.79 L513.71,676.19 L514.22,677.60 L514.73,679.02 L515.22,680.44 L515.71,681.86 L516.21,683.28 L516.70,684.70 L517.19,686.12 L517.69,687.53 L518.18,688.95 L518.68,690.37 L519.18,691.78 L519.67,693.20 L520.17,694.61 L520.67,696.02 L521.16,697.44 L521.66,698.85 L522.15,700.26 L522.65,701.68 L523.14,703.09 L523.63,704.51 L524.11,705.92 L524.60,707.34 L525.08,708.76 L525.55,710.17 L526.03,711.59 L526.50,713.01 L526.96,714.44 L527.43,715.86 L527.88,717.29 L528.34,718.71 L528.78,720.14 L529.22,721.57 L529.66,723.00 L530.09,724.44 L530.52,725.87 L530.94,727.31 L531.35,728.75 L531.76,730.19 L532.16,731.63 L532.55,733.08 L532.94,734.53 L533.32,735.97 L533.69,737.42 L534.06,738.88 L534.42,740.33 L534.77,741.78 L535.11,743.24 L535.45,744.70 L535.77,746.16 L536.09,747.62 L536.40,749.09 L536.70,750.56 L537.00,752.02 L537.28,753.49 L537.57,754.96 L537.85,756.43 L538.14,757.90 L538.42,759.37 L538.72,760.84 L539.02,762.30 L539.33,763.76 L539.66,765.22 L540.00,766.68 L540.35,768.13 L540.73,769.57 L541.13,771.01 L541.55,772.44 L541.99,773.87 L542.44,775.30 L542.91,776.72 L543.38,778.15 L543.86,779.57 L544.34,780.99 L544.81,782.41 L545.29,783.84 L545.76,785.26 L546.22,786.69 L546.69,788.11 L547.16,789.54 L547.62,790.96 L548.09,792.39 L548.55,793.82 L549.02,795.24 L549.49,796.67 L549.96,798.09 L550.43,799.52 L550.91,800.94 L551.39,802.36 L551.87,803.78 L552.36,805.19 L552.85,806.61 L553.35,808.02 L553.85,809.43 L554.36,810.84 L554.88,812.24 L555.40,813.64 L555.93,815.04 L556.47,816.44 L557.02,817.83 L557.58,819.22 L558.15,820.60 L558.72,821.98 L559.31,823.35 L559.91,824.72 L560.52,826.09 L561.15,827.45 L561.78,828.80 L562.43,830.15 L563.09,831.49 L563.77,832.83 L564.46,834.16 L565.17,835.49 L565.89,836.81 L566.63,838.12 L567.38,839.42 L643.00,839.40" fill="none" stroke="#0e0ed2" stroke-width="4.6" stroke-linejoin="round"/>
<path d="M641,836.2 L657.5,836.2" fill="none" stroke="#5a1670" stroke-width="2"/>
<path d="M643,838.6 L657.5,838.6" fill="none" stroke="#2010b8" stroke-width="4"/></svg>
</body></html>
